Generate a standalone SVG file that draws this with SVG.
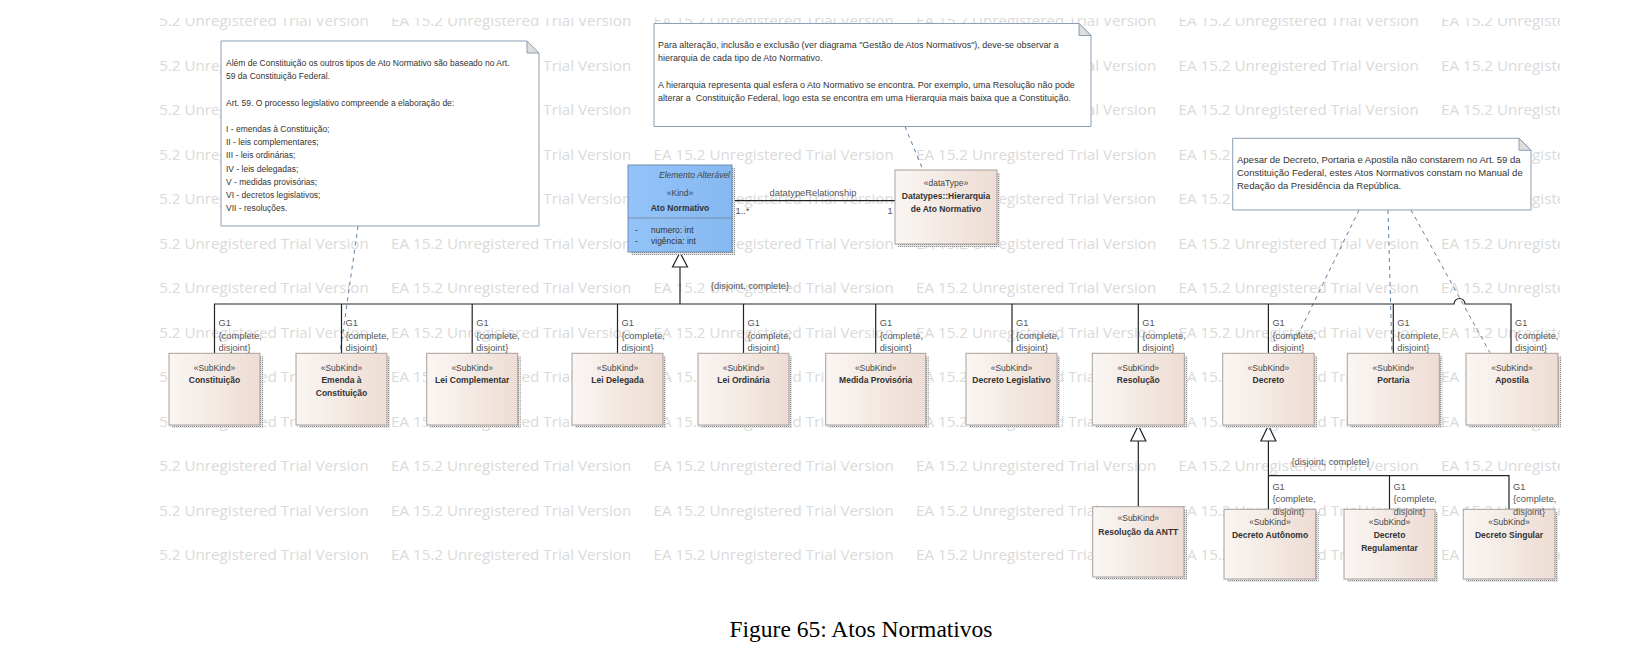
<svg xmlns="http://www.w3.org/2000/svg" width="1652" height="668" viewBox="0 0 1652 668">
<style>
.wm{font-family:"Open Sans","Noto Sans",sans-serif;font-size:15.2px;fill:#dadada}
.nt{font-family:"Liberation Sans",Arial,sans-serif;font-size:8.5px;fill:#333}
.nt2{font-family:"Liberation Sans",Arial,sans-serif;font-size:8.95px;fill:#333}
.nt3{font-family:"Liberation Sans",Arial,sans-serif;font-size:9.5px;fill:#333}
.note{fill:#fff;stroke:#8aa0b6;stroke-width:1}
.fold{fill:#dedede;stroke:#8aa0b6;stroke-width:1}
.sk{fill:url(#skg);stroke:#a8a09c;stroke-width:1}
.sh{fill:url(#dots)}
.st{font-family:"Liberation Sans",Arial,sans-serif;font-size:8.5px;fill:#444;text-anchor:middle}
.nm{font-family:"Liberation Sans",Arial,sans-serif;font-size:8.5px;font-weight:bold;fill:#333;text-anchor:middle}
.lb{font-family:"Liberation Sans",Arial,sans-serif;font-size:9.3px;fill:#555}
.at{font-family:"Liberation Sans",Arial,sans-serif;font-size:8.5px;fill:#333}
.ln{fill:none;stroke:#222;stroke-width:1.2}
.dl{fill:none;stroke:#5f82a3;stroke-width:1;stroke-dasharray:4 4}
.tri{fill:#fff;stroke:#222;stroke-width:1.2}
.cap{font-family:"Liberation Serif","Times New Roman",serif;font-size:23.5px;fill:#000;text-anchor:middle}
</style>
<defs>
<pattern id="dots" width="2" height="2" patternUnits="userSpaceOnUse"><rect width="2" height="2" fill="#e4e4e4"/><rect width="1" height="1" fill="#8c8c8c"/></pattern>
<linearGradient id="skg" x1="0" y1="0" x2="1" y2="0"><stop offset="0" stop-color="#faf6f3"/><stop offset="1" stop-color="#eddcd3"/></linearGradient>
<linearGradient id="blu" x1="0" y1="0" x2="1" y2="0"><stop offset="0" stop-color="#93c3f8"/><stop offset="1" stop-color="#86b8f1"/></linearGradient>
<clipPath id="area"><rect x="158" y="18" width="1402" height="565"/></clipPath>
</defs>
<rect width="1652" height="668" fill="#fff"/>
<g id="watermark" clip-path="url(#area)">
<text class="wm" x="128.5" y="26">EA 15.2 Unregistered Trial Version<tspan x="391">EA 15.2 Unregistered Trial Version</tspan><tspan x="653.5">EA 15.2 Unregistered Trial Version</tspan><tspan x="916">EA 15.2 Unregistered Trial Version</tspan><tspan x="1178.5">EA 15.2 Unregistered Trial Version</tspan><tspan x="1441">EA 15.2 Unregistered Trial Version</tspan></text>
<text class="wm" x="128.5" y="70.5">EA 15.2 Unregistered Trial Version<tspan x="391">EA 15.2 Unregistered Trial Version</tspan><tspan x="653.5">EA 15.2 Unregistered Trial Version</tspan><tspan x="916">EA 15.2 Unregistered Trial Version</tspan><tspan x="1178.5">EA 15.2 Unregistered Trial Version</tspan><tspan x="1441">EA 15.2 Unregistered Trial Version</tspan></text>
<text class="wm" x="128.5" y="115">EA 15.2 Unregistered Trial Version<tspan x="391">EA 15.2 Unregistered Trial Version</tspan><tspan x="653.5">EA 15.2 Unregistered Trial Version</tspan><tspan x="916">EA 15.2 Unregistered Trial Version</tspan><tspan x="1178.5">EA 15.2 Unregistered Trial Version</tspan><tspan x="1441">EA 15.2 Unregistered Trial Version</tspan></text>
<text class="wm" x="128.5" y="159.5">EA 15.2 Unregistered Trial Version<tspan x="391">EA 15.2 Unregistered Trial Version</tspan><tspan x="653.5">EA 15.2 Unregistered Trial Version</tspan><tspan x="916">EA 15.2 Unregistered Trial Version</tspan><tspan x="1178.5">EA 15.2 Unregistered Trial Version</tspan><tspan x="1441">EA 15.2 Unregistered Trial Version</tspan></text>
<text class="wm" x="128.5" y="204">EA 15.2 Unregistered Trial Version<tspan x="391">EA 15.2 Unregistered Trial Version</tspan><tspan x="653.5">EA 15.2 Unregistered Trial Version</tspan><tspan x="916">EA 15.2 Unregistered Trial Version</tspan><tspan x="1178.5">EA 15.2 Unregistered Trial Version</tspan><tspan x="1441">EA 15.2 Unregistered Trial Version</tspan></text>
<text class="wm" x="128.5" y="248.5">EA 15.2 Unregistered Trial Version<tspan x="391">EA 15.2 Unregistered Trial Version</tspan><tspan x="653.5">EA 15.2 Unregistered Trial Version</tspan><tspan x="916">EA 15.2 Unregistered Trial Version</tspan><tspan x="1178.5">EA 15.2 Unregistered Trial Version</tspan><tspan x="1441">EA 15.2 Unregistered Trial Version</tspan></text>
<text class="wm" x="128.5" y="293">EA 15.2 Unregistered Trial Version<tspan x="391">EA 15.2 Unregistered Trial Version</tspan><tspan x="653.5">EA 15.2 Unregistered Trial Version</tspan><tspan x="916">EA 15.2 Unregistered Trial Version</tspan><tspan x="1178.5">EA 15.2 Unregistered Trial Version</tspan><tspan x="1441">EA 15.2 Unregistered Trial Version</tspan></text>
<text class="wm" x="128.5" y="337.5">EA 15.2 Unregistered Trial Version<tspan x="391">EA 15.2 Unregistered Trial Version</tspan><tspan x="653.5">EA 15.2 Unregistered Trial Version</tspan><tspan x="916">EA 15.2 Unregistered Trial Version</tspan><tspan x="1178.5">EA 15.2 Unregistered Trial Version</tspan><tspan x="1441">EA 15.2 Unregistered Trial Version</tspan></text>
<text class="wm" x="128.5" y="382">EA 15.2 Unregistered Trial Version<tspan x="391">EA 15.2 Unregistered Trial Version</tspan><tspan x="653.5">EA 15.2 Unregistered Trial Version</tspan><tspan x="916">EA 15.2 Unregistered Trial Version</tspan><tspan x="1178.5">EA 15.2 Unregistered Trial Version</tspan><tspan x="1441">EA 15.2 Unregistered Trial Version</tspan></text>
<text class="wm" x="128.5" y="426.5">EA 15.2 Unregistered Trial Version<tspan x="391">EA 15.2 Unregistered Trial Version</tspan><tspan x="653.5">EA 15.2 Unregistered Trial Version</tspan><tspan x="916">EA 15.2 Unregistered Trial Version</tspan><tspan x="1178.5">EA 15.2 Unregistered Trial Version</tspan><tspan x="1441">EA 15.2 Unregistered Trial Version</tspan></text>
<text class="wm" x="128.5" y="471">EA 15.2 Unregistered Trial Version<tspan x="391">EA 15.2 Unregistered Trial Version</tspan><tspan x="653.5">EA 15.2 Unregistered Trial Version</tspan><tspan x="916">EA 15.2 Unregistered Trial Version</tspan><tspan x="1178.5">EA 15.2 Unregistered Trial Version</tspan><tspan x="1441">EA 15.2 Unregistered Trial Version</tspan></text>
<text class="wm" x="128.5" y="515.5">EA 15.2 Unregistered Trial Version<tspan x="391">EA 15.2 Unregistered Trial Version</tspan><tspan x="653.5">EA 15.2 Unregistered Trial Version</tspan><tspan x="916">EA 15.2 Unregistered Trial Version</tspan><tspan x="1178.5">EA 15.2 Unregistered Trial Version</tspan><tspan x="1441">EA 15.2 Unregistered Trial Version</tspan></text>
<text class="wm" x="128.5" y="560">EA 15.2 Unregistered Trial Version<tspan x="391">EA 15.2 Unregistered Trial Version</tspan><tspan x="653.5">EA 15.2 Unregistered Trial Version</tspan><tspan x="916">EA 15.2 Unregistered Trial Version</tspan><tspan x="1178.5">EA 15.2 Unregistered Trial Version</tspan><tspan x="1441">EA 15.2 Unregistered Trial Version</tspan></text>
</g>

<g id="connectors">
<path class="dl" d="M358 226 L340 353.3"/>
<path class="dl" d="M905 126.5 L923 170"/>
<path class="dl" d="M1359 210 L1297 337"/>
<path class="dl" d="M1388 210 L1392 353.3"/>
<path class="dl" d="M1411 210 L1490 352.7"/>
<path class="ln" d="M732 200.7 H895"/>
<path class="ln" d="M214.5 353.3 V304 H1454 A5.5 5.5 0 0 1 1465 304 H1511 V353.3"/>
<path class="ln" d="M680 267 V304 M341.5 304 V353.3 M472.2 304 V353.3 M617.5 304 V353.3 M743.5 304 V353.3 M875.7 304 V353.3 M1012 304 V353.3 M1138.3 304 V353.3 M1268.4 304 V353.3 M1393.3 304 V353.3"/>
<polygon class="tri" points="680,252.5 672.5,267 687.5,267"/>
<path class="ln" d="M1138.3 441 V506.7"/>
<polygon class="tri" points="1138.3,425.5 1130.8,441 1145.8,441"/>
<path class="ln" d="M1268.4 441 V509.3 M1268.4 475.7 H1509 V509.3 M1389.5 475.7 V509.3"/>
<polygon class="tri" points="1268.4,425.5 1260.9,441 1275.9,441"/>
</g>

<g id="note1">
<path class="note" d="M221 41 H527 L539 53 V226 H221 Z"/>
<path class="fold" d="M527 41 V53 H539 Z"/>
<text class="nt" x="226" y="66">Além de Constituição os outros tipos de Ato Normativo são baseado no Art.</text>
<text class="nt" x="226" y="79.2">59 da Constituição Federal.</text>
<text class="nt" x="226" y="105.6">Art. 59. O processo legislativo compreende a elaboração de:</text>
<text class="nt" x="226" y="132">I - emendas à Constituição;</text>
<text class="nt" x="226" y="145.2">II - leis complementares;</text>
<text class="nt" x="226" y="158.4">III - leis ordinárias;</text>
<text class="nt" x="226" y="171.6">IV - leis delegadas;</text>
<text class="nt" x="226" y="184.8">V - medidas provisórias;</text>
<text class="nt" x="226" y="198">VI - decretos legislativos;</text>
<text class="nt" x="226" y="211.2">VII - resoluções.</text>
</g>

<g id="note2">
<path class="note" d="M654 23.5 H1079 L1091 35.5 V126.5 H654 Z"/>
<path class="fold" d="M1079 23.5 V35.5 H1091 Z"/>
<text class="nt2" x="658" y="48">Para alteração, inclusão e exclusão (ver diagrama "Gestão de Atos Normativos"), deve-se observar a</text>
<text class="nt2" x="658" y="61.2">hierarquia de cada tipo de Ato Normativo.</text>
<text class="nt2" x="658" y="87.6">A hierarquia representa qual esfera o Ato Normativo se encontra. Por exemplo, uma Resolução não pode</text>
<text class="nt2" x="658" y="100.8">alterar a&#160; Constituição Federal, logo esta se encontra em uma Hierarquia mais baixa que a Constituição.</text>
</g>

<g id="note3">
<path class="note" d="M1232.7 138.3 H1519 L1531 150.3 V210 H1232.7 Z"/>
<path class="fold" d="M1519 138.3 V150.3 H1531 Z"/>
<text class="nt3" x="1237" y="162.5">Apesar de Decreto, Portaria e Apostila não constarem no Art. 59 da</text>
<text class="nt3" x="1237" y="175.7">Constituição Federal, estes Atos Normativos constam no Manual de</text>
<text class="nt3" x="1237" y="188.9">Redação da Presidência da República.</text>
</g>

<g id="ato-normativo">
<rect class="sh" x="631" y="168" width="104" height="87"/>
<rect x="628" y="165" width="104" height="87" fill="url(#blu)" stroke="#6d8db3" stroke-width="1"/>
<line x1="628" y1="218" x2="732" y2="218" stroke="#7d8fa5" stroke-width="1"/>
<text class="st" x="730" y="178" style="text-anchor:end;font-style:italic">Elemento Alterável</text>
<text class="st" x="680" y="196">«Kind»</text>
<text class="nm" x="680" y="210.5">Ato Normativo</text>
<text class="at" x="635" y="233">-</text>
<text class="at" x="651" y="233">numero: int</text>
<text class="at" x="635" y="244">-</text>
<text class="at" x="651" y="244">vigência: int</text>
</g>

<g id="assoc-labels">
<text class="lb" x="813" y="196" style="text-anchor:middle">datatypeRelationship</text>
<text class="lb" x="735.5" y="214">1..*</text>
<text class="lb" x="887.5" y="214">1</text>
<text class="lb" x="711" y="289">{disjoint, complete}</text>
<text class="lb" x="1291.5" y="465">{disjoint, complete}</text>
</g>

<g id="hierarquia">
<rect class="sh" x="898" y="173" width="102" height="74"/>
<rect class="sk" x="895" y="170" width="102" height="74"/>
<text class="st" x="946" y="186">«dataType»</text>
<text class="nm" x="946" y="199">Datatypes::Hierarquia</text>
<text class="nm" x="946" y="212">de Ato Normativo</text>
</g>

<g id="constituicao">
<rect class="sh" x="172" y="356.3" width="91" height="71.7"/>
<rect class="sk" x="169" y="353.3" width="91" height="71.7"/>
<text class="st" x="214.5" y="370.5">«SubKind»</text>
<text class="nm" x="214.5" y="383">Constituição</text>
</g>
<g id="emenda">
<rect class="sh" x="299" y="356.3" width="91" height="71.7"/>
<rect class="sk" x="296" y="353.3" width="91" height="71.7"/>
<text class="st" x="341.5" y="370.5">«SubKind»</text>
<text class="nm" x="341.5" y="383">Emenda à</text>
<text class="nm" x="341.5" y="396">Constituição</text>
</g>
<g id="lei-complementar">
<rect class="sh" x="429.7" y="356.3" width="91" height="71.7"/>
<rect class="sk" x="426.7" y="353.3" width="91" height="71.7"/>
<text class="st" x="472.2" y="370.5">«SubKind»</text>
<text class="nm" x="472.2" y="383">Lei Complementar</text>
</g>
<g id="lei-delegada">
<rect class="sh" x="575" y="356.3" width="91" height="71.7"/>
<rect class="sk" x="572" y="353.3" width="91" height="71.7"/>
<text class="st" x="617.5" y="370.5">«SubKind»</text>
<text class="nm" x="617.5" y="383">Lei Delegada</text>
</g>
<g id="lei-ordinaria">
<rect class="sh" x="701" y="356.3" width="91" height="71.7"/>
<rect class="sk" x="698" y="353.3" width="91" height="71.7"/>
<text class="st" x="743.5" y="370.5">«SubKind»</text>
<text class="nm" x="743.5" y="383">Lei Ordinária</text>
</g>
<g id="medida-provisoria">
<rect class="sh" x="828.7" y="356.3" width="100" height="71.7"/>
<rect class="sk" x="825.7" y="353.3" width="100" height="71.7"/>
<text class="st" x="875.7" y="370.5">«SubKind»</text>
<text class="nm" x="875.7" y="383">Medida Provisória</text>
</g>
<g id="decreto-legislativo">
<rect class="sh" x="969" y="356.3" width="91" height="71.7"/>
<rect class="sk" x="966" y="353.3" width="91" height="71.7"/>
<text class="st" x="1011.5" y="370.5">«SubKind»</text>
<text class="nm" x="1011.5" y="383">Decreto Legislativo</text>
</g>
<g id="resolucao">
<rect class="sh" x="1095.3" y="356.3" width="92" height="71.7"/>
<rect class="sk" x="1092.3" y="353.3" width="92" height="71.7"/>
<text class="st" x="1138.3" y="370.5">«SubKind»</text>
<text class="nm" x="1138.3" y="383">Resolução</text>
</g>
<g id="decreto">
<rect class="sh" x="1225.7" y="356.3" width="91.5" height="71.7"/>
<rect class="sk" x="1222.7" y="353.3" width="91.5" height="71.7"/>
<text class="st" x="1268.4" y="370.5">«SubKind»</text>
<text class="nm" x="1268.4" y="383">Decreto</text>
</g>
<g id="portaria">
<rect class="sh" x="1350.3" y="356.3" width="92" height="71.7"/>
<rect class="sk" x="1347.3" y="353.3" width="92" height="71.7"/>
<text class="st" x="1393.3" y="370.5">«SubKind»</text>
<text class="nm" x="1393.3" y="383">Portaria</text>
</g>
<g id="apostila">
<rect class="sh" x="1469" y="356.3" width="92" height="71.7"/>
<rect class="sk" x="1466" y="353.3" width="92" height="71.7"/>
<text class="st" x="1512" y="370.5">«SubKind»</text>
<text class="nm" x="1512" y="383">Apostila</text>
</g>
<g id="resolucao-antt">
<rect class="sh" x="1095.7" y="509.7" width="91.3" height="70.3"/>
<rect class="sk" x="1092.7" y="506.7" width="91.3" height="70.3"/>
<text class="st" x="1138.3" y="521.3">«SubKind»</text>
<text class="nm" x="1138.3" y="534.7">Resolução da ANTT</text>
</g>
<g id="decreto-autonomo">
<rect class="sh" x="1227" y="512.3" width="91.7" height="69.7"/>
<rect class="sk" x="1224" y="509.3" width="91.7" height="69.7"/>
<text class="st" x="1270" y="524.5">«SubKind»</text>
<text class="nm" x="1270" y="538">Decreto Autônomo</text>
</g>
<g id="decreto-regulamentar">
<rect class="sh" x="1347" y="512.3" width="91" height="69.7"/>
<rect class="sk" x="1344" y="509.3" width="91" height="69.7"/>
<text class="st" x="1389.5" y="524.5">«SubKind»</text>
<text class="nm" x="1389.5" y="538">Decreto</text>
<text class="nm" x="1389.5" y="551">Regulamentar</text>
</g>
<g id="decreto-singular">
<rect class="sh" x="1466.3" y="512.3" width="91.7" height="69.7"/>
<rect class="sk" x="1463.3" y="509.3" width="91.7" height="69.7"/>
<text class="st" x="1509" y="524.5">«SubKind»</text>
<text class="nm" x="1509" y="538">Decreto Singular</text>
</g>

<g id="gen-labels">
<text class="lb" x="218.5" y="326">G1<tspan x="218.5" y="338.5">{complete,</tspan><tspan x="218.5" y="351">disjoint}</tspan></text>
<text class="lb" x="345.5" y="326">G1<tspan x="345.5" y="338.5">{complete,</tspan><tspan x="345.5" y="351">disjoint}</tspan></text>
<text class="lb" x="476.2" y="326">G1<tspan x="476.2" y="338.5">{complete,</tspan><tspan x="476.2" y="351">disjoint}</tspan></text>
<text class="lb" x="621.5" y="326">G1<tspan x="621.5" y="338.5">{complete,</tspan><tspan x="621.5" y="351">disjoint}</tspan></text>
<text class="lb" x="747.5" y="326">G1<tspan x="747.5" y="338.5">{complete,</tspan><tspan x="747.5" y="351">disjoint}</tspan></text>
<text class="lb" x="879.7" y="326">G1<tspan x="879.7" y="338.5">{complete,</tspan><tspan x="879.7" y="351">disjoint}</tspan></text>
<text class="lb" x="1016" y="326">G1<tspan x="1016" y="338.5">{complete,</tspan><tspan x="1016" y="351">disjoint}</tspan></text>
<text class="lb" x="1142.3" y="326">G1<tspan x="1142.3" y="338.5">{complete,</tspan><tspan x="1142.3" y="351">disjoint}</tspan></text>
<text class="lb" x="1272.4" y="326">G1<tspan x="1272.4" y="338.5">{complete,</tspan><tspan x="1272.4" y="351">disjoint}</tspan></text>
<text class="lb" x="1397.3" y="326">G1<tspan x="1397.3" y="338.5">{complete,</tspan><tspan x="1397.3" y="351">disjoint}</tspan></text>
<text class="lb" x="1515" y="326">G1<tspan x="1515" y="338.5">{complete,</tspan><tspan x="1515" y="351">disjoint}</tspan></text>
<text class="lb" x="1272.4" y="489.5">G1<tspan x="1272.4" y="502">{complete,</tspan><tspan x="1272.4" y="514.5">disjoint}</tspan></text>
<text class="lb" x="1393.5" y="489.5">G1<tspan x="1393.5" y="502">{complete,</tspan><tspan x="1393.5" y="514.5">disjoint}</tspan></text>
<text class="lb" x="1513" y="489.5">G1<tspan x="1513" y="502">{complete,</tspan><tspan x="1513" y="514.5">disjoint}</tspan></text>
</g>

<text class="cap" x="861" y="637">Figure 65: Atos Normativos</text>
</svg>
